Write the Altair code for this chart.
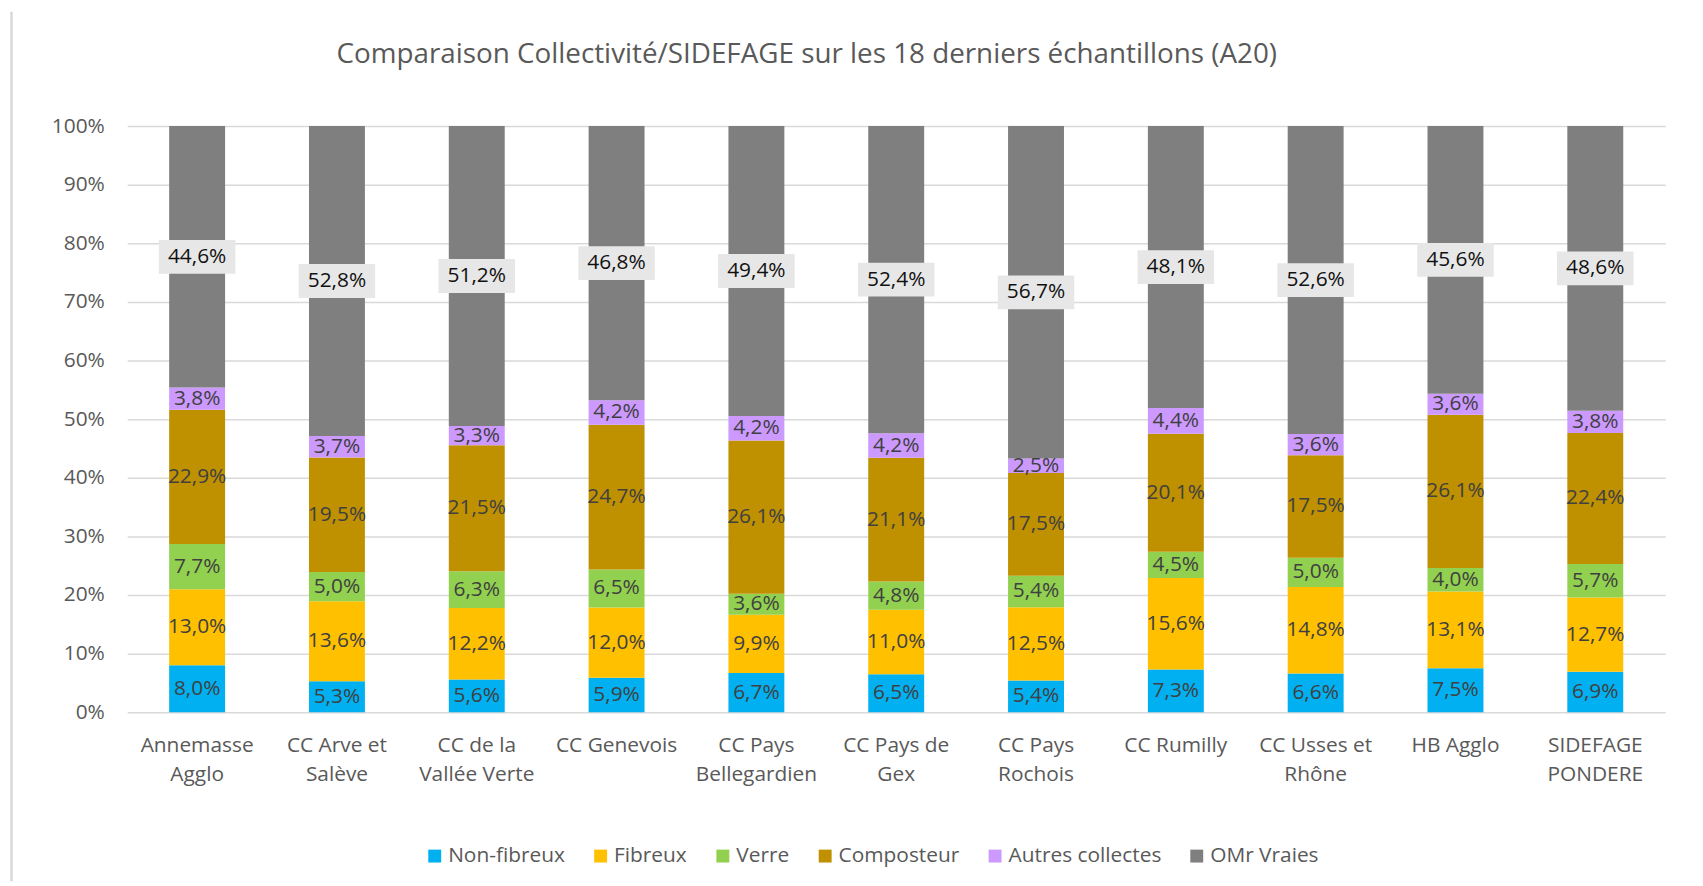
import altair as alt
import pandas as pd

title_text = "Comparaison Collectivité/SIDEFAGE sur les 18 derniers échantillons (A20)"
categories = ["Annemasse\nAgglo", "CC Arve et\nSalève", "CC de la\nVallée Verte", "CC Genevois",
              "CC Pays\nBellegardien", "CC Pays de\nGex", "CC Pays\nRochois", "CC Rumilly",
              "CC Usses et\nRhône", "HB Agglo", "SIDEFAGE\nPONDERE"]
series = ["Non-fibreux", "Fibreux", "Verre", "Composteur", "Autres collectes", "OMr Vraies"]
non_fibreux = [8.0, 5.3, 5.6, 5.9, 6.7, 6.5, 5.4, 7.3, 6.6, 7.5, 6.9]
fibreux = [13.0, 13.6, 12.2, 12.0, 9.9, 11.0, 12.5, 15.6, 14.8, 13.1, 12.7]
verre = [7.7, 5.0, 6.3, 6.5, 3.6, 4.8, 5.4, 4.5, 5.0, 4.0, 5.7]
composteur = [22.9, 19.5, 21.5, 24.7, 26.1, 21.1, 17.5, 20.1, 17.5, 26.1, 22.4]
autres = [3.8, 3.7, 3.3, 4.2, 4.2, 4.2, 2.5, 4.4, 3.6, 3.6, 3.8]
omr = [44.6, 52.8, 51.2, 46.8, 49.4, 52.4, 56.7, 48.1, 52.6, 45.6, 48.6]
colors = ["#00B0F0", "#FFC000", "#92D050", "#BF9000", "#CC99FF", "#7F7F7F"]

values = [non_fibreux, fibreux, verre, composteur, autres, omr]
rows = []
for si, (s, vals) in enumerate(zip(series, values)):
    for c, v in zip(categories, vals):
        rows.append({"cat": c, "series": s, "order": si, "value": v})
df = pd.DataFrame(rows)

FONT = "Open Sans"
W, H = 1548, 590
PAD = {"left": 120, "top": 116, "right": 30, "bottom": 170}

base = alt.Chart(df).transform_stack(
    stack="value", groupby=["cat"], sort=[alt.SortField("order", order="ascending")],
    as_=["y0", "y1"], offset="normalize"
).transform_calculate(
    mid="(datum.y0 + datum.y1) / 2",
    label="replace(format(datum.value, '.1f'), '.', ',') + '%'"
)

xenc = alt.X("cat:N", sort=categories,
             scale=alt.Scale(paddingInner=0.6, paddingOuter=0.3),
             axis=alt.Axis(title=None, labelAngle=0, labelExpr="split(datum.label, '\\n')",
                           labelFontSize=21, labelFont=FONT, labelColor="#595959",
                           labelPadding=22, labelLineHeight=30, ticks=False, domain=False,
                           grid=False))

bars = base.mark_bar().encode(
    x=xenc,
    y=alt.Y("y0:Q", scale=alt.Scale(domain=[0, 1]),
            axis=alt.Axis(title=None, format=".0%", values=[i / 10 for i in range(11)],
                          labelFontSize=21, labelFont=FONT, labelColor="#595959",
                          labelPadding=23, ticks=False, domain=False,
                          gridColor="#D9D9D9", gridWidth=1.5)),
    y2="y1:Q",
    color=alt.Color("series:N", scale=alt.Scale(domain=series, range=colors),
                    legend=alt.Legend(title=None, orient="none", legendX=299, legendY=724,
                                      direction="horizontal", symbolType="square",
                                      symbolSize=169, symbolStrokeWidth=0,
                                      labelFontSize=21, labelFont=FONT, labelColor="#595959",
                                      columnPadding=25, labelOffset=3)),
    order=alt.Order("order:Q"),
)

box_path = "M-1,-0.4416L1,-0.4416L1,0.4416L-1,0.4416Z"
boxes = base.transform_filter(alt.datum.series == "OMr Vraies").mark_point(
    shape=box_path, size=77 * 77, filled=True, color="#E7E7E7", opacity=1, strokeWidth=0
).encode(x=alt.X("cat:N", sort=categories), y="mid:Q")

texts = base.mark_text(fontSize=21, font=FONT).encode(
    x=alt.X("cat:N", sort=categories),
    y="mid:Q",
    text="label:N",
    color=alt.condition(alt.datum.series == "OMr Vraies", alt.value("#111111"), alt.value("#404040")),
)

misc = alt.Chart(pd.DataFrame({"t": [title_text]}))
border = misc.mark_rule(color="#D9D9D9", strokeWidth=2.5).encode(
    x=alt.value(-116.5), y=alt.value(-PAD["top"] + 1), y2=alt.value(H + PAD["bottom"])
)
title = misc.mark_text(fontSize=28, font=FONT, color="#595959", align="center",
                       baseline="middle").encode(
    x=alt.value(W / 2 - 90), y=alt.value(-71), text="t:N"
)

chart = alt.layer(border, title, bars, boxes, texts).properties(
    width=W, height=H,
    padding=PAD,
    autosize=alt.AutoSizeParams(type="none"),
).configure_view(stroke=None)

chart.save("out.html", embed_options={"renderer": "svg", "actions": False})
